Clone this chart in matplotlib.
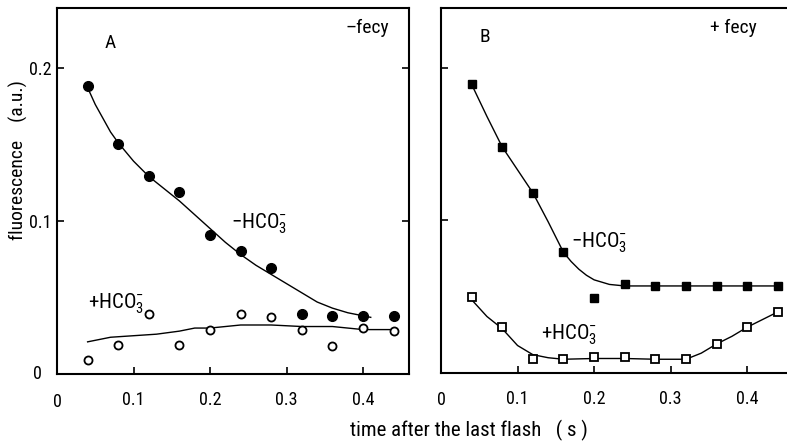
import matplotlib
matplotlib.use("Agg")
import matplotlib.pyplot as plt
from matplotlib import font_manager as fm

_names = {f.name for f in fm.fontManager.ttflist}
_fam = 'DejaVu Sans'
for _c in ['Liberation Sans Narrow', 'DejaVu Sans Condensed', 'Roboto Condensed', 'Open Sans Condensed']:
    if _c in _names:
        _fam = _c
        break
plt.rcParams['font.family'] = [_fam, 'DejaVu Sans']
plt.rcParams['mathtext.fontset'] = 'custom'
plt.rcParams['mathtext.rm'] = _fam
plt.rcParams['mathtext.it'] = _fam
plt.rcParams['mathtext.bf'] = _fam

# ---- data ----
t = [0.04, 0.08, 0.12, 0.16, 0.20, 0.24, 0.28, 0.32, 0.36, 0.40, 0.44]

# Panel A (- fecy)
a_minus = [0.188, 0.150, 0.129, 0.119, 0.091, 0.080, 0.069, 0.039, 0.038, 0.038, 0.038]
a_plus = [0.009, 0.019, 0.039, 0.019, 0.029, 0.039, 0.037, 0.029, 0.018, 0.030, 0.028]
a_minus_curve_x = [0.04, 0.05, 0.06, 0.07, 0.08, 0.10, 0.12, 0.14, 0.16, 0.18, 0.20, 0.22, 0.24,
                   0.26, 0.28, 0.30, 0.32, 0.34, 0.36, 0.38, 0.40, 0.41]
a_minus_curve_y = [0.187, 0.176, 0.167, 0.158, 0.151, 0.139, 0.129, 0.121, 0.113, 0.104, 0.095,
                   0.086, 0.078, 0.071, 0.065, 0.059, 0.053, 0.047, 0.043, 0.040, 0.038, 0.037]
a_plus_curve_x = [0.04, 0.07, 0.10, 0.13, 0.16, 0.18, 0.20, 0.24, 0.28, 0.32, 0.36, 0.40, 0.44]
a_plus_curve_y = [0.021, 0.024, 0.025, 0.026, 0.028, 0.030, 0.030, 0.032, 0.032, 0.031, 0.031,
                  0.029, 0.029]

# Panel B (+ fecy)
b_minus = [0.189, 0.148, 0.118, 0.079, 0.049, 0.058, 0.057, 0.057, 0.057, 0.057, 0.057]
b_plus = [0.050, 0.030, 0.009, 0.009, 0.0105, 0.0105, 0.009, 0.009, 0.019, 0.030, 0.040]
b_minus_curve_x = [0.04, 0.06, 0.08, 0.10, 0.12, 0.14, 0.16, 0.17, 0.18, 0.19, 0.20, 0.22,
                   0.24, 0.28, 0.32, 0.36, 0.40, 0.44]
b_minus_curve_y = [0.189, 0.168, 0.148, 0.133, 0.118, 0.099, 0.079, 0.073, 0.068, 0.064, 0.061,
                   0.058, 0.057, 0.057, 0.057, 0.057, 0.057, 0.057]
b_plus_curve_x = [0.04, 0.06, 0.08, 0.10, 0.12, 0.14, 0.16, 0.20, 0.24, 0.28, 0.32, 0.34,
                  0.36, 0.38, 0.40, 0.42, 0.44]
b_plus_curve_y = [0.048, 0.037, 0.029, 0.018, 0.012, 0.010, 0.009, 0.0095, 0.0095, 0.009, 0.009,
                  0.013, 0.019, 0.024, 0.030, 0.035, 0.040]

x_ticks = [0.1, 0.2, 0.3, 0.4]
x_ticklabels = ['0.1', '0.2', '0.3', '0.4']
y_ticks = [0.1, 0.2]
y_ticklabels = ['0.1', '0.2']

W, H = 787, 444
fig = plt.figure(figsize=(W / 100, H / 100), dpi=100)

axA = fig.add_axes([57 / W, 1 - 374 / H, (409 - 57) / W, (374 - 8) / H])
axB = fig.add_axes([441 / W, 1 - 373 / H, (787 - 441) / W, (373 - 8) / H])

tick_fs = 13
lab_fs = 14
lw_line = 1.0

for ax in (axA, axB):
    for s in ax.spines.values():
        s.set_linewidth(1.5)
    ax.set_xlim(0, 0.46 if ax is axA else 0.452)
    ax.set_ylim(0, 0.239)
    ax.set_xticks(x_ticks)
    ax.set_xticklabels(x_ticklabels, fontsize=tick_fs)
    ax.set_yticks(y_ticks)
    ax.tick_params(direction='in', length=5, width=1.2)
    ax.tick_params(axis='x', pad=12)

# Panel A
axA.plot(a_minus_curve_x, a_minus_curve_y, color='black', lw=lw_line)
axA.plot(a_plus_curve_x, a_plus_curve_y, color='black', lw=lw_line)
axA.plot(t, a_minus, 'o', color='black', ms=7, mec='black', mfc='black', zorder=3)
axA.plot(t, a_plus, 'o', color='black', ms=5.8, mec='black', mfc='white', mew=1.3, zorder=3)
axA.set_yticklabels(y_ticklabels, fontsize=tick_fs)
axA.tick_params(axis='y', right=True, pad=4)
axA.text(0.069, 0.216, 'A', fontsize=lab_fs, ha='center', va='center')
axA.text(0.405, 0.226, '\u2013fecy', fontsize=lab_fs, ha='center', va='center')
axA.text(0.228, 0.098, r'$-$HCO$_3^{-}$', fontsize=lab_fs + 1, ha='left', va='center')
axA.text(0.040, 0.046, r'+HCO$_3^{-}$', fontsize=lab_fs + 1, ha='left', va='center')
axA.text(-0.02, 0.0, '0', fontsize=tick_fs, ha='right', va='center', clip_on=False)
axA.text(0.0, -0.018, '0', fontsize=tick_fs, ha='center', va='center', clip_on=False)

# Panel B
axB.spines['right'].set_visible(False)
axB.plot(b_minus_curve_x, b_minus_curve_y, color='black', lw=lw_line)
axB.plot(b_plus_curve_x, b_plus_curve_y, color='black', lw=lw_line)
axB.plot(t, b_minus, 's', color='black', ms=6.3, mec='black', mfc='black', zorder=3)
axB.plot(t, b_plus, 's', color='black', ms=6, mec='black', mfc='white', mew=1.3, zorder=3)
axB.set_yticklabels([])
axB.text(0.057, 0.220, 'B', fontsize=lab_fs, ha='center', va='center')
axB.text(0.352, 0.226, '+ fecy', fontsize=lab_fs, ha='left', va='center')
axB.text(0.170, 0.085, r'$-$HCO$_3^{-}$', fontsize=lab_fs + 1, ha='left', va='center')
axB.text(0.130, 0.025, r'+HCO$_3^{-}$', fontsize=lab_fs + 1, ha='left', va='center')
axB.text(0.0, -0.018, '0', fontsize=tick_fs, ha='center', va='center', clip_on=False)

fig.text(18 / W, 1 - 160 / H, 'fluorescence    (a.u.)', fontsize=lab_fs, rotation=90,
         ha='center', va='center')
fig.text(469 / W, 1 - 430 / H, 'time after the last flash   ( s )', fontsize=lab_fs + 1,
         ha='center', va='center')

fig.savefig('out.png', dpi=100)
